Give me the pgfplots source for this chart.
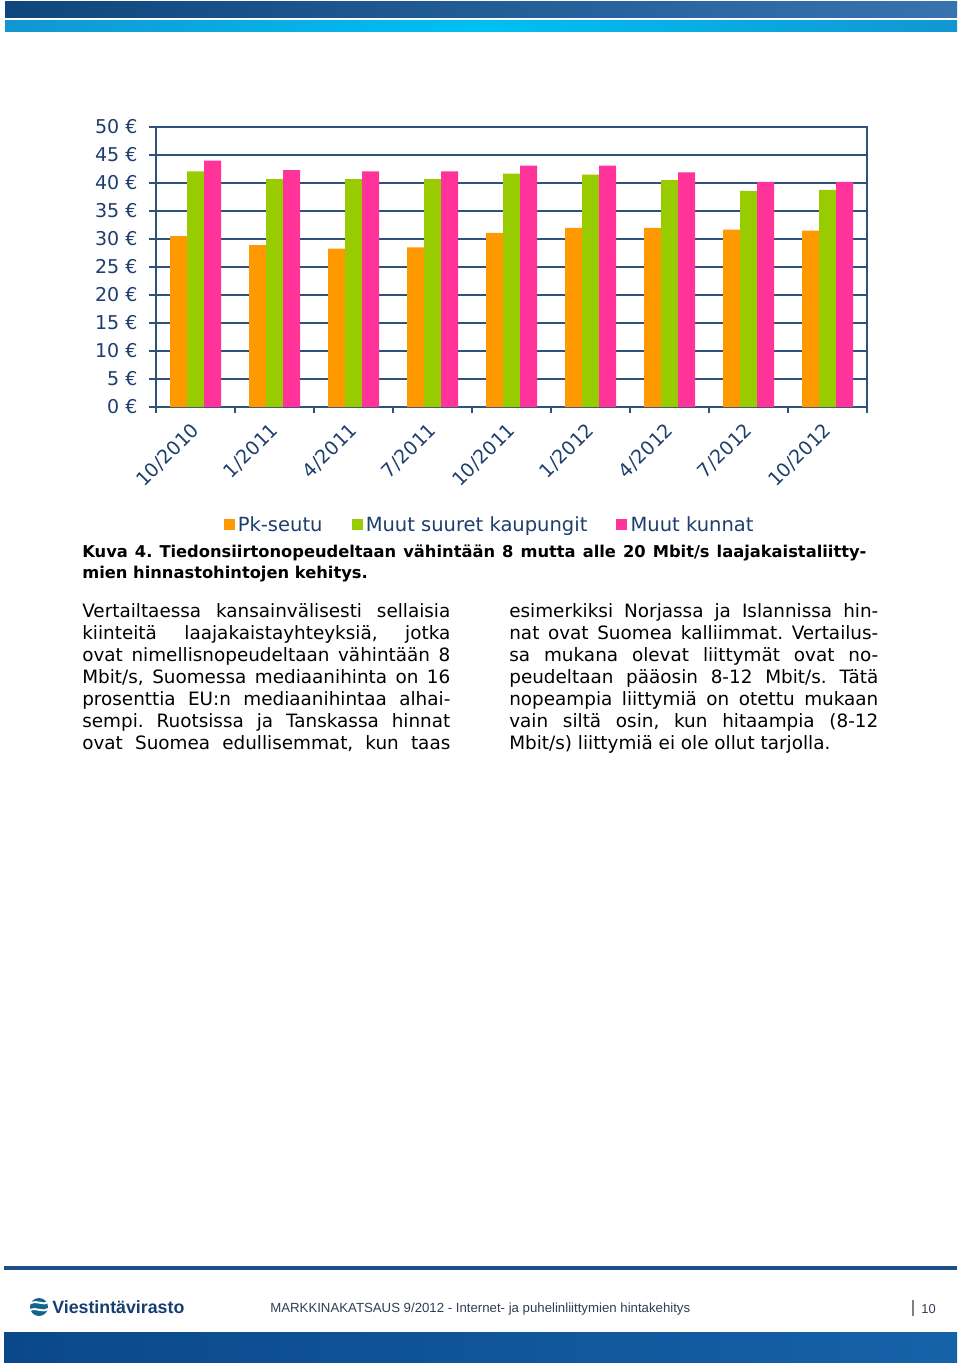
\documentclass[border=0pt]{standalone}
\usepackage{fontspec}
\setmainfont{DejaVu Sans}
\newfontfamily\arialfont{Liberation Sans}
\usepackage{pgfplots}
\usepackage{pgfplotstable}
\pgfplotsset{compat=1.18}
\frenchspacing
\definecolor{navy}{RGB}{30,62,108}
\definecolor{gridc}{RGB}{47,82,122}
\definecolor{cor}{RGB}{255,153,0}
\definecolor{cgr}{RGB}{153,204,0}
\definecolor{cpk}{RGB}{255,51,153}
\definecolor{hdarka}{RGB}{14,70,125}
\definecolor{hdarkb}{RGB}{55,115,175}
\definecolor{hcyana}{RGB}{18,150,210}
\definecolor{hcyanb}{RGB}{0,192,242}
\definecolor{fbara}{RGB}{10,72,138}
\definecolor{fbarb}{RGB}{22,98,168}
\definecolor{flinec}{RGB}{28,78,135}
\definecolor{logoblue}{RGB}{22,62,112}
\definecolor{footgray}{RGB}{50,62,85}

\pgfplotstableread{
idx pk ms mk
0 30.5 42.1 44.0
1 28.9 40.7 42.3
2 28.3 40.7 42.1
3 28.5 40.7 42.1
4 31.1 41.7 43.1
5 32.0 41.5 43.1
6 32.0 40.5 41.9
7 31.7 38.6 40.2
8 31.5 38.8 40.2
}\datatable

\newcommand\chartfont{\fontsize{11.8}{14}\selectfont}
\newcommand\legfont{\fontsize{12.1}{14}\selectfont}
\newcommand\bodyfont{\fontsize{11.4}{13.8}\selectfont}

\begin{document}
\begin{tikzpicture}
\begin{scope}[x=0.6201pt,y=-0.6201pt]
\path[fill=white] (0,0) rectangle (960,1367);
% header bars
\shade[left color=hdarka,right color=hdarkb] (5,2) rectangle (957,18);
\shade[left color=hcyana,right color=hcyana,middle color=hcyanb] (5,21) rectangle (957,31.5);
\end{scope}

\begin{axis}[
  at={(96.74pt,-252.38pt)}, anchor=south west,
  width=440.9pt, height=173.6pt, scale only axis,
  xmin=-0.5, xmax=8.5, ymin=0, ymax=50,
  ybar=0pt, bar width=10.54pt,
  axis line style={gridc, line width=0.7pt},
  ymajorgrids, grid style={gridc, line width=0.7pt},
  tick pos=left, tick align=outside,
  ytick={0,5,...,50},
  yticklabels={0 €,5 €,10 €,15 €,20 €,25 €,30 €,35 €,40 €,45 €,50 €},
  xtick={0,...,8},
  xticklabels={10/2010,1/2011,4/2011,7/2011,10/2011,1/2012,4/2012,7/2012,10/2012},
  minor xtick={-0.5,0.5,...,8.5},
  major tick length=4.3pt, minor tick length=4pt,
  major x tick style={draw=none},
  tick style={gridc, line width=0.7pt},
  minor tick style={gridc, line width=0.7pt},
  yticklabel style={font=\chartfont, text=navy, anchor=east, xshift=-3.7pt},
  xticklabel shift=8.5pt,
  xticklabel style={font=\chartfont, text=navy, rotate=45, anchor=east, inner sep=1pt, xshift=1.5pt},
  legend columns=3,
  legend style={draw=none, fill=none, at={(0.47,-0.421)}, anchor=center,
    font=\legfont, text=navy,
    /tikz/every even column/.append style={column sep=16pt}},
  legend image code/.code={\fill[#1] (0pt,-3.4pt) rectangle (6.8pt,3.4pt);},
]
\addplot[fill=cor, draw=none] table[x=idx,y=pk] {\datatable};
\addplot[fill=cgr, draw=none] table[x=idx,y=ms] {\datatable};
\addplot[fill=cpk, draw=none] table[x=idx,y=mk] {\datatable};
\legend{Pk-seutu,Muut suuret kaupungit,Muut kunnat}
\end{axis}

\begin{scope}[x=0.6201pt,y=-0.6201pt]
% caption
\node[anchor=base west, inner sep=0pt, text=black] at (82,557)
  {\fontsize{10.1}{13}\selectfont\bfseries\makebox[486.2pt][s]{Kuva 4. Tiedonsiirtonopeudeltaan vähintään 8 mutta alle 20 Mbit/s laajakaistaliitty-}};
\node[anchor=base west, inner sep=0pt, text=black] at (82,578)
  {\fontsize{10.1}{13}\selectfont\bfseries mien hinnastohintojen kehitys.};

% body text
\begin{scope}[every node/.style={anchor=base west, inner sep=0pt, text=black, font=\bodyfont}]
\node at (82,617) {\makebox[228.2pt][s]{Vertailtaessa kansainvälisesti sellaisia}};
\node at (82,639) {\makebox[228.2pt][s]{kiinteitä laajakaistayhteyksiä, jotka}};
\node at (82,661.5) {\makebox[228.2pt][s]{ovat nimellisnopeudeltaan vähintään 8}};
\node at (82,683.5) {\makebox[228.2pt][s]{Mbit/s, Suomessa mediaanihinta on 16}};
\node at (82,705.5) {\makebox[228.2pt][s]{prosenttia EU:n mediaanihintaa alhai-}};
\node at (82,727.5) {\makebox[228.2pt][s]{sempi. Ruotsissa ja Tanskassa hinnat}};
\node at (82,749.5) {\makebox[228.2pt][s]{ovat Suomea edullisemmat, kun taas}};
\node at (509,617) {\makebox[228.8pt][s]{esimerkiksi Norjassa ja Islannissa hin-}};
\node at (509,639) {\makebox[228.8pt][s]{nat ovat Suomea kalliimmat. Vertailus-}};
\node at (509,661.5) {\makebox[228.8pt][s]{sa mukana olevat liittymät ovat no-}};
\node at (509,683.5) {\makebox[228.8pt][s]{peudeltaan pääosin 8-12 Mbit/s. Tätä}};
\node at (509,705.5) {\makebox[228.8pt][s]{nopeampia liittymiä on otettu mukaan}};
\node at (509,727.5) {\makebox[228.8pt][s]{vain siltä osin, kun hitaampia (8-12}};
\node at (509,749.5) {Mbit/s) liittymiä ei ole ollut tarjolla.};
\end{scope}

% footer
\draw[flinec, line width=1.9pt] (4,1268) -- (957,1268);
\shade[left color=fbara,right color=fbarb] (4,1332) rectangle (957,1362);
% logo
\fill[logoblue!80!cyan] (39,1307) circle[radius=9];
\draw[white, line width=1.2pt] (31,1303) .. controls (38,1300) and (44,1306) .. (48,1302);
\draw[white, line width=1.2pt] (30,1310) .. controls (37,1307) and (43,1313) .. (48,1309);
\node[anchor=west, inner sep=0pt, text=logoblue] at (52,1307)
  {\resizebox{81.9pt}{!}{\arialfont\bfseries Viestintävirasto}};
\node[anchor=west, inner sep=0pt, text=footgray] at (270,1309)
  {\resizebox{260.4pt}{!}{\arialfont\fontsize{8}{9}\selectfont MARKKINAKATSAUS 9/2012 - Internet- ja puhelinliittymien hintakehitys}};
\draw[gray, line width=0.8pt] (913,1300) -- (913,1316);
\node[anchor=west, inner sep=0pt, text=footgray] at (921,1309)
  {\arialfont\fontsize{8}{9}\selectfont 10};
\end{scope}
\end{tikzpicture}
\end{document}
